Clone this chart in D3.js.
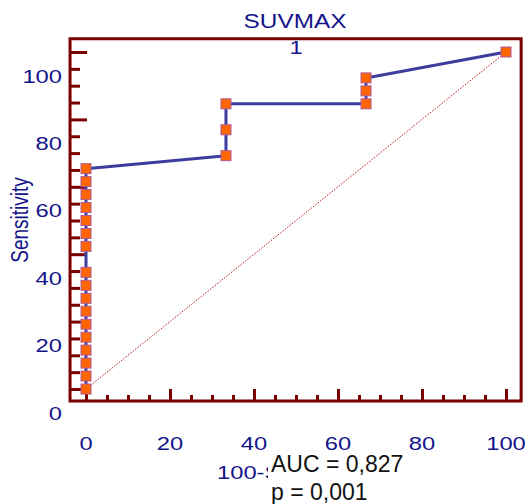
<!DOCTYPE html>
<html>
<head>
<meta charset="utf-8">
<script src="https://cdn.jsdelivr.net/npm/d3@7"></script>
<style>
  html, body { margin: 0; padding: 0; background: #fff; }
  svg { display: block; }
  text { font-family: "Liberation Sans", Arial, sans-serif; }
</style>
</head>
<body>
<svg id="chart" width="528" height="504"></svg>
<script>
// ---- data ----
const title = "SUVMAX";
const subtitle = "1";
const xLabel = "100-Specificity";
const yLabel = "Sensitivity";
const aucText = "AUC = 0,827";
const pText = "p = 0,001";

// ROC points: 100-Specificity (%) and Sensitivity (%)
const rocX = [0, 0, 0, 0, 0, 0, 0, 0, 0, 0, 0, 0, 0, 0, 0, 0, 0,
              33.33, 33.33, 33.33,
              66.67, 66.67, 66.67,
              100];
const rocY = [0, 3.85, 7.69, 11.54, 15.38, 19.23, 23.08, 26.92, 30.77, 34.62,
              42.31, 46.15, 50.0, 53.85, 57.69, 61.54, 65.38,
              69.23, 76.92, 84.62,
              84.62, 88.46, 92.31,
              100];
const diagX = [0, 100];
const diagY = [0, 100];

const majorTicks = [0, 20, 40, 60, 80, 100];
const minorTicks = [5, 10, 15, 25, 30, 35, 45, 50, 55, 65, 70, 75, 85, 90, 95];

// ---- layout ----
const svg = d3.select("#chart");
const x = d3.scaleLinear().domain([0, 100]).range([86, 506]);
const y = d3.scaleLinear().domain([0, 100]).range([389, 52]);
const xMin = -3.8, xMax = 103.6, yMin = -3.55, yMax = 103.9;

const axisCol = "#7a0000";
const textCol = "#14148a";
const lineCol = "#3d3d9e";
const sx = 1.25; // horizontal stretch of the blue text

const fLeft = x(xMin), fRight = x(xMax), fTop = y(yMax), fBottom = y(yMin);

// ---- ticks via d3 axes ----
const gxMinor = svg.append("g").attr("transform", `translate(0,${fBottom})`)
  .call(d3.axisBottom(x).tickValues(minorTicks).tickSize(-6).tickFormat(""));
const gxMajor = svg.append("g").attr("transform", `translate(0,${fBottom})`)
  .call(d3.axisBottom(x).tickValues(majorTicks).tickSize(-12).tickFormat(""));
const gyMinor = svg.append("g").attr("transform", `translate(${fLeft},0)`)
  .call(d3.axisLeft(y).tickValues(minorTicks).tickSize(-10).tickFormat(""));
const gyMajor = svg.append("g").attr("transform", `translate(${fLeft},0)`)
  .call(d3.axisLeft(y).tickValues(majorTicks).tickSize(-17).tickFormat(""));
[gxMinor, gxMajor, gyMinor, gyMajor].forEach(g => {
  g.select(".domain").remove();
  g.selectAll("line").attr("stroke", axisCol).attr("stroke-width", 3);
});

// ---- frame ----
svg.append("path")
  .attr("d", `M${fLeft},${fBottom}L${fLeft},${fTop}L${fRight},${fTop}L${fRight},${fBottom}Z`)
  .attr("fill", "none").attr("stroke", axisCol).attr("stroke-width", 3);

// ---- tick labels ----
svg.append("g").selectAll("text").data(majorTicks).join("text")
  .attr("transform", d => `translate(${x(d)},449.5) scale(${sx},1)`)
  .attr("text-anchor", "middle")
  .attr("font-size", 19).attr("fill", textCol)
  .text(d => d);
svg.append("g").selectAll("text").data(majorTicks).join("text")
  .attr("transform", d => `translate(62,${y(d) + 30.5}) scale(${sx},1)`)
  .attr("text-anchor", "end")
  .attr("font-size", 19).attr("fill", textCol)
  .text(d => d);

// ---- titles ----
svg.append("text")
  .attr("transform", `translate(295,28) scale(${sx},1)`)
  .attr("text-anchor", "middle").attr("font-size", 19.5).attr("fill", textCol)
  .text(title);
svg.append("text")
  .attr("transform", `translate(296,53.5) scale(${sx},1)`)
  .attr("text-anchor", "middle").attr("font-size", 19).attr("fill", textCol)
  .text(subtitle);
svg.append("text")
  .attr("transform", `translate(28,220) rotate(-90) scale(1,${sx})`)
  .attr("text-anchor", "middle").attr("font-size", 19).attr("fill", textCol)
  .text(yLabel);
svg.append("text")
  .attr("transform", `translate(217,479) scale(${sx},1)`)
  .attr("text-anchor", "start").attr("font-size", 19).attr("fill", textCol)
  .text(xLabel);

// ---- diagonal reference line ----
svg.append("path")
  .datum(d3.zip(diagX, diagY))
  .attr("d", d3.line().x(d => x(d[0])).y(d => y(d[1])))
  .attr("fill", "none").attr("stroke", "#b01818").attr("stroke-width", 1)
  .attr("stroke-dasharray", "1.5,1.5");

// ---- ROC curve ----
const pts = d3.zip(rocX, rocY);
svg.append("path")
  .datum(pts)
  .attr("d", d3.line().x(d => x(d[0])).y(d => y(d[1])))
  .attr("fill", "none").attr("stroke", lineCol).attr("stroke-width", 3)
  .attr("stroke-linejoin", "round");

const ms = 10;
svg.append("g").selectAll("rect").data(pts).join("rect")
  .attr("x", d => x(d[0]) - ms / 2)
  .attr("y", d => y(d[1]) - ms / 2)
  .attr("width", ms).attr("height", ms)
  .attr("fill", "#ff6600").attr("stroke", "#b0589c").attr("stroke-width", 1);

// ---- AUC box (covers part of the x-axis title, as in the reference) ----
svg.append("rect").attr("x", 268).attr("y", 452).attr("width", 150).attr("height", 52)
  .attr("fill", "#fff");
svg.append("text").attr("x", 271).attr("y", 471.5)
  .attr("font-size", 23).attr("fill", "#111").text(aucText);
svg.append("text").attr("x", 271).attr("y", 500)
  .attr("font-size", 23).attr("fill", "#111").text(pText);
</script>
</body>
</html>
